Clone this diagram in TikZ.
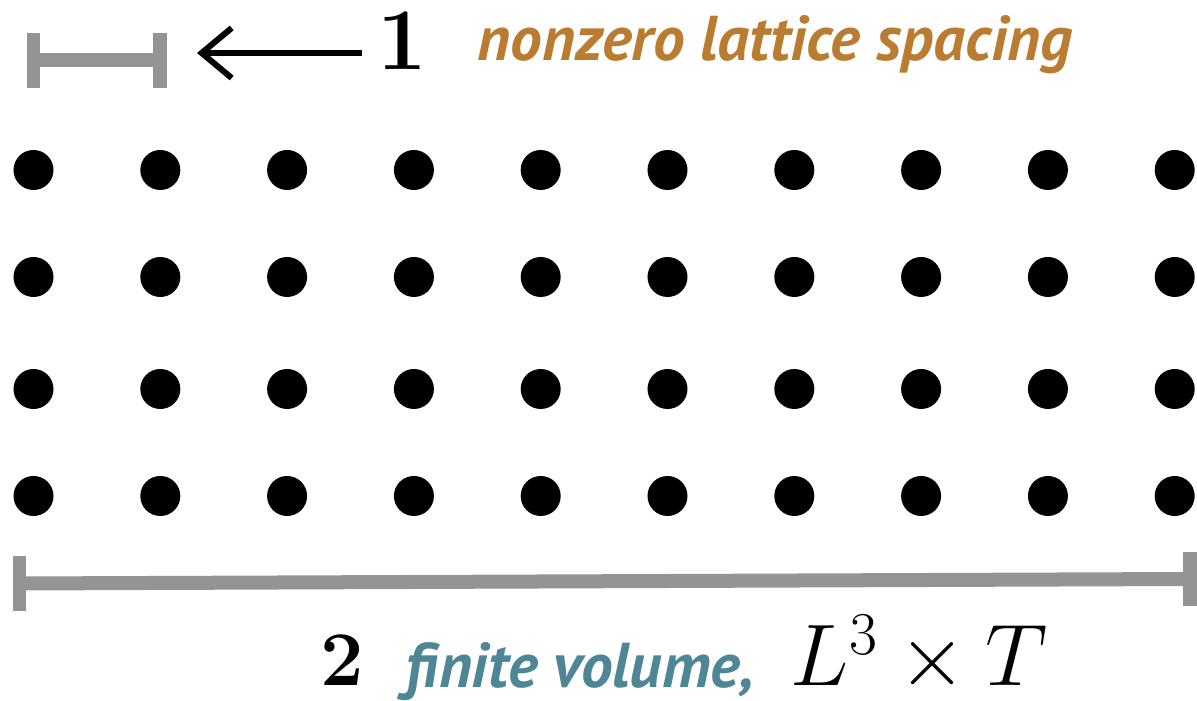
\documentclass[tikz,border=0pt]{standalone}
\usepackage{fontspec}
\newfontfamily\labelfont{PT Sans}
\definecolor{spacingorange}{RGB}{186,124,48}
\definecolor{volumeteal}{RGB}{78,134,150}
\definecolor{bargrey}{RGB}{148,148,148}
\usepackage{tikz}
\usetikzlibrary{arrows.meta,positioning,calc}

\begin{document}
\begin{tikzpicture}[x=0.01cm,y=-0.01cm,
        site/.style={circle,fill=black,inner sep=0pt,minimum size=0.4cm},
        bar/.style={draw=bargrey,line width=0.14cm},
        tick/.style={draw=bargrey,line width=0.135cm},
        handnum/.style={inner sep=0pt,anchor=base west},
        label/.style={inner sep=0pt,anchor=base west,
                      font={\labelfont\fontsize{18}{21}\selectfont\bfseries\itshape}},
        handarrow/.style={-{Straight Barb[length=0.3cm,width=0.5cm]},line width=0.06cm}
    ]
        \useasboundingbox (0,0) rectangle (1197,701);

        % Lattice sites
        \foreach \row/\y in {1/170,2/277,3/389,4/496}
            \foreach \col in {0,...,9}
                \node[site] (s-\row-\col) at ({33.5+126.8*\col},\y) {};

        % Spacing bar
        \draw[bar] (33.5,60.5) -- (160,60.5);
        \draw[tick] (33.5,33) -- (33.5,88);
        \draw[tick] (160,33) -- (160,88);

        % Volume bar
        \draw[bar] (19.5,583.5) -- (1190,579);
        \draw[tick] (19.5,556) -- (19.5,611);
        \draw[tick] (1190,552) -- (1190,606);

        % Labels
        \node[handnum,font=\bfseries\fontsize{25}{30}\selectfont] (one) at (377,70) {\textbf{1}};
        \node[label,text=spacingorange] (spacing) at (477,61) {nonzero lattice spacing};
        \node[handnum,font=\bfseries\fontsize{22}{26}\selectfont] (two) at (320,686) {2};
        \node[label,text=volumeteal] (volume) at (405,688) {finite volume,};
        \node[inner sep=0pt,anchor=base west,font=\fontsize{25}{30}\selectfont] (size) at (790,686) {$L^3 \times T$};

        % Arrow
        \coordinate (lattip) at (197,53);
        \draw[handarrow,shorten <=0.15cm] (one.west |- lattip) -- (lattip);
    \end{tikzpicture}
\end{document}
